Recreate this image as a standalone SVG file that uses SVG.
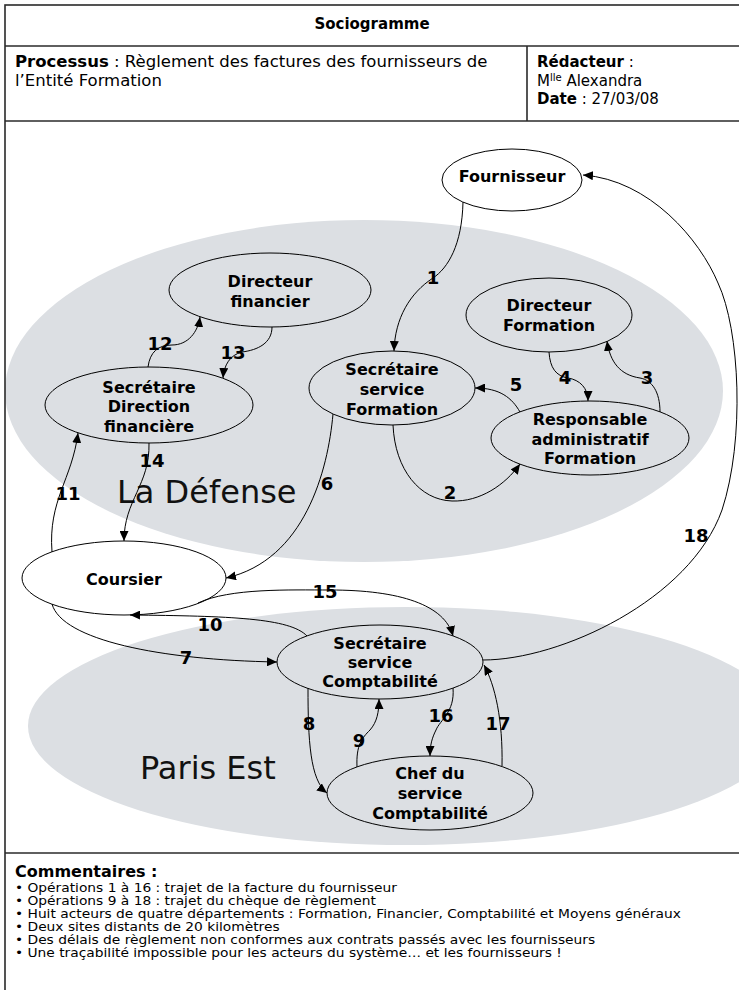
<svg xmlns="http://www.w3.org/2000/svg" width="739" height="990" viewBox="0 0 739 990">
<defs>
<style>
.frame{fill:none;stroke:#2a2a2a;stroke-width:1.6}
.zone{fill:#dcdfe3}
.zlabel{font-family:"DejaVu Sans",Verdana,sans-serif;font-size:32px;fill:#111}
.node ellipse{stroke:#000;stroke-width:1}
.in{fill:none}
.out{fill:#fff}
.lbl{font-family:"DejaVu Sans",Verdana,sans-serif;font-weight:bold;font-size:16px;text-anchor:middle;fill:#000}
.num{font-family:"DejaVu Sans",Verdana,sans-serif;font-weight:bold;font-size:18px;text-anchor:middle;fill:#000}
.conn path{fill:none;stroke:#000;stroke-width:1;marker-end:url(#ah)}
.hd{font-family:"DejaVu Sans",Verdana,sans-serif;font-size:15px;fill:#000}
.hl{font-size:16.5px}
.ht{font-size:15px}
.hc{font-size:16px}
.b{font-weight:bold}
.cm{font-family:"DejaVu Sans",Verdana,sans-serif;font-size:11.5px;fill:#000}
</style>
<marker id="ah" viewBox="0 0 10 9" refX="10" refY="4.5" markerWidth="10" markerHeight="9" markerUnits="userSpaceOnUse" orient="auto">
<path d="M0,0 L10,4.5 L0,9 z" fill="#000"/>
</marker>
</defs>
<rect x="0" y="0" width="739" height="990" fill="#fff"/>

<g id="zones">
<ellipse class="zone" cx="364" cy="391" rx="359" ry="171"/>
<ellipse class="zone" cx="406" cy="726" rx="378" ry="119"/>
<text class="zlabel" x="117" y="503">La Défense</text>
<text class="zlabel" x="140" y="779">Paris Est</text>
</g>

<g id="table">
<rect class="frame" x="5" y="5" width="800" height="1020"/>
<line class="frame" x1="5" y1="46" x2="739" y2="46"/>
<line class="frame" x1="5" y1="121" x2="739" y2="121"/>
<line class="frame" x1="527" y1="46" x2="527" y2="121"/>
<line class="frame" x1="5" y1="853" x2="739" y2="853"/>
<text class="hd ht b" x="372" y="29" text-anchor="middle">Sociogramme</text>
<text class="hd hl" x="15" y="67"><tspan class="b">Processus</tspan> : Règlement des factures des fournisseurs de</text>
<text class="hd hl" x="15" y="86">l’Entité Formation</text>
<text class="hd" x="537" y="67"><tspan class="b">Rédacteur</tspan> :</text>
<text class="hd" x="537" y="86">M<tspan style="font-size:10px" dy="-5">lle</tspan><tspan dy="5"> Alexandra</tspan></text>
<text class="hd" x="537" y="104"><tspan class="b">Date</tspan> : 27/03/08</text>
</g>

<g id="n-fournisseur" class="node">
<ellipse class="out" cx="512" cy="180" rx="70" ry="31"/>
<text class="lbl" x="512" y="182">Fournisseur</text>
</g>
<g id="n-directeur-financier" class="node">
<ellipse class="in" cx="270" cy="290" rx="101" ry="37"/>
<text class="lbl" x="270" y="287">Directeur</text>
<text class="lbl" x="270" y="307">financier</text>
</g>
<g id="n-secretaire-direction-financiere" class="node">
<ellipse class="in" cx="149" cy="405" rx="104" ry="38"/>
<text class="lbl" x="149" y="393">Secrétaire</text>
<text class="lbl" x="149" y="412">Direction</text>
<text class="lbl" x="149" y="432">financière</text>
</g>
<g id="n-secretaire-service-formation" class="node">
<ellipse class="in" cx="392" cy="388" rx="83" ry="37"/>
<text class="lbl" x="392" y="375">Secrétaire</text>
<text class="lbl" x="392" y="395">service</text>
<text class="lbl" x="392" y="415">Formation</text>
</g>
<g id="n-directeur-formation" class="node">
<ellipse class="in" cx="549" cy="315" rx="83" ry="37"/>
<text class="lbl" x="549" y="311">Directeur</text>
<text class="lbl" x="549" y="331">Formation</text>
</g>
<g id="n-responsable-administratif" class="node">
<ellipse class="in" cx="590" cy="438" rx="99" ry="37"/>
<text class="lbl" x="590" y="425">Responsable</text>
<text class="lbl" x="590" y="445">administratif</text>
<text class="lbl" x="590" y="464">Formation</text>
</g>
<g id="n-coursier" class="node">
<ellipse class="out" cx="124" cy="578" rx="102" ry="37"/>
<text class="lbl" x="124" y="585">Coursier</text>
</g>
<g id="n-secretaire-comptabilite" class="node">
<ellipse class="in" cx="380" cy="662" rx="103" ry="37"/>
<text class="lbl" x="380" y="649">Secrétaire</text>
<text class="lbl" x="380" y="668">service</text>
<text class="lbl" x="380" y="687">Comptabilité</text>
</g>
<g id="n-chef-comptabilite" class="node">
<ellipse class="in" cx="430" cy="793" rx="103" ry="37"/>
<text class="lbl" x="430" y="779">Chef du</text>
<text class="lbl" x="430" y="799">service</text>
<text class="lbl" x="430" y="819">Comptabilité</text>
</g>

<g id="connectors" class="conn">
<path d="M463,202 C462,245 448,268 433,278 C410,293 395,318 394,351"/>
<path d="M393,425 C395,470 420,500 452,501 C480,502 505,485 520,464"/>
<path d="M660,412 C660,392 652,380 640,378 C620,375 610,362 607,341"/>
<path d="M549,352 C550,368 556,376 568,378 C580,380 588,388 588,401"/>
<path d="M520,412 C512,398 500,388 475,388"/>
<path d="M333,414 C328,470 305,560 226,578"/>
<path d="M52,604 C62,640 160,660 277,662"/>
<path d="M308,688 C308,740 310,780 327,793"/>
<path d="M357,767 C356,745 362,738 370,730 C377,722 379,712 379,699"/>
<path d="M307,636 C290,618 230,616 130,615"/>
<path d="M52,552 C48,500 72,480 78,433"/>
<path d="M148,367 C150,352 158,345 172,345 C188,345 198,332 200,317"/>
<path d="M272,327 C272,343 258,350 242,352 C230,355 224,365 223,378"/>
<path d="M149,443 C150,485 124,500 124,541"/>
<path d="M198,603 C230,588 290,590 330,590 C400,590 445,605 453,636"/>
<path d="M453,688 C455,712 440,720 436,730 C432,738 430,745 430,756"/>
<path d="M502,766 C503,720 495,685 484,665"/>
<path d="M483,660 C560,660 690,600 722,510 C745,440 740,330 718,283 C700,240 650,180 583,175"/>
</g>

<g id="connector-labels">
<text class="num" x="433" y="284">1</text>
<text class="num" x="450" y="499">2</text>
<text class="num" x="647" y="384">3</text>
<text class="num" x="565" y="384">4</text>
<text class="num" x="516" y="391">5</text>
<text class="num" x="327" y="490">6</text>
<text class="num" x="186" y="664">7</text>
<text class="num" x="309" y="730">8</text>
<text class="num" x="359" y="747">9</text>
<text class="num" x="210" y="631">10</text>
<text class="num" x="68" y="500">11</text>
<text class="num" x="160" y="350">12</text>
<text class="num" x="233" y="359">13</text>
<text class="num" x="152" y="467">14</text>
<text class="num" x="325" y="598">15</text>
<text class="num" x="441" y="722">16</text>
<text class="num" x="498" y="730">17</text>
<text class="num" x="696" y="542">18</text>
</g>

<g id="comments">
<text class="hd hc b" x="15" y="877">Commentaires :</text>
<g transform="translate(15,0) scale(1.2,1)">
<text class="cm" x="0" y="892">• Opérations 1 à 16 : trajet de la facture du fournisseur</text>
<text class="cm" x="0" y="905">• Opérations 9 à 18 : trajet du chèque de règlement</text>
<text class="cm" x="0" y="918">• Huit acteurs de quatre départements : Formation, Financier, Comptabilité et Moyens généraux</text>
<text class="cm" x="0" y="931">• Deux sites distants de 20 kilomètres</text>
<text class="cm" x="0" y="944">• Des délais de règlement non conformes aux contrats passés avec les fournisseurs</text>
<text class="cm" x="0" y="957">• Une traçabilité impossible pour les acteurs du système… et les fournisseurs !</text>
</g>
</g>
</svg>
